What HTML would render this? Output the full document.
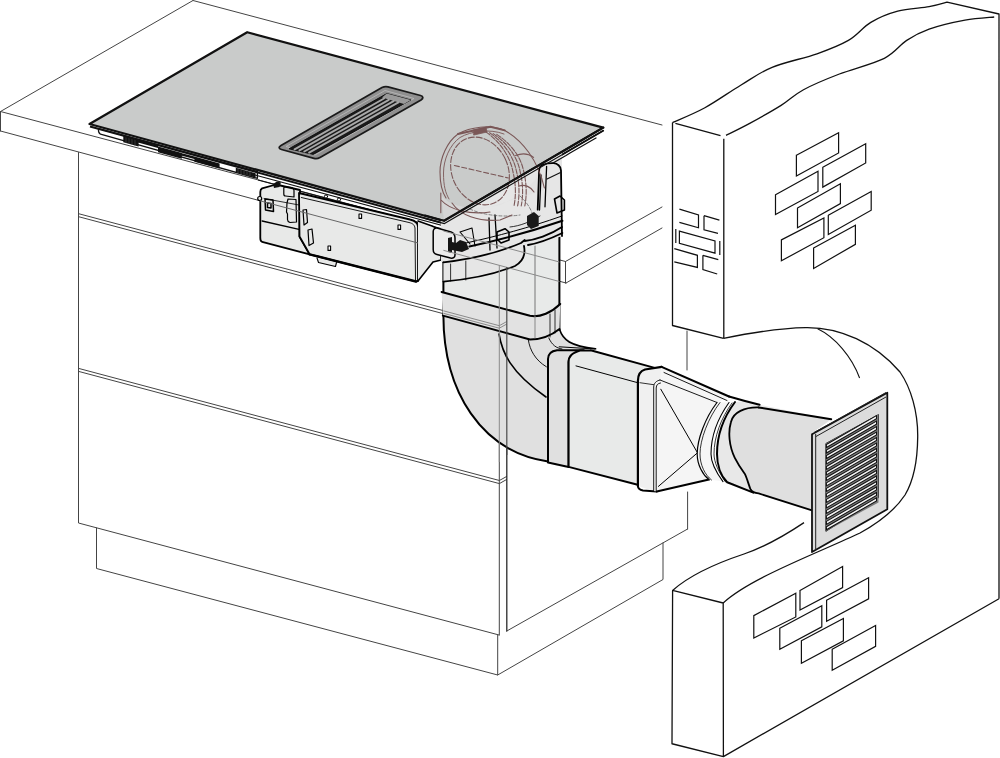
<!DOCTYPE html>
<html><head><meta charset="utf-8"><style>
html,body{margin:0;padding:0;background:#fff;width:1000px;height:758px;overflow:hidden}
svg{display:block}
</style></head><body>
<svg width="1000" height="758" viewBox="0 0 1000 758">
<rect width="1000" height="758" fill="#fff"/>
<!-- COUNTERTOP + CABINET -->
<g id="cab" fill="none" stroke="#444" stroke-width="1" stroke-linecap="round">
<path d="M0.5,111.5 L193,0.5 M193,0.5 L662,125 M0.5,111.5 L0.5,131 M0.5,111.5 L565.5,261.5 M0.5,131 L566,283 M565.5,261.5 L565.5,283 M565.5,261.5 L662,207 M566,283 L662,228"/>
<path d="M78.5,152.5 L78.5,523 L499,635 M499.3,265 L499.3,635 M687.6,529 L687.6,492 M687,331 L687,370"/>
<path d="M96.5,528 L96.5,568.5 L497.7,675 L497.7,635 M497.7,675 L663,579.5 L663,543"/>
<path d="M79,213.8 L499.4,325.5 L506.6,321.5 M79,216.8 L499.4,328.6 L506.6,324.5"/>
<path d="M79,368.5 L499.4,480.5 L506.6,476.5 M79,371.5 L499.4,483.6 L506.6,479.5"/>
<path d="M506.8,267 L506.8,631" stroke="#2a2a2a" stroke-width="1.3"/><path d="M506.8,631 L687.6,529"/>
</g>
<!-- WALLS -->
<g id="walls" fill="none" stroke="#111" stroke-width="1.3" stroke-linejoin="round">
<path d="M672.5,122.6 L672.5,325.5 L723.5,338.4 M675.4,123.3 L720.5,135.6 M723.8,138.7 L723.8,338.4"/>
<path d="M672.5,122.6 C677.9,120.1 693.5,113.9 704.9,107.7 C716.3,101.5 729.5,91.9 740.7,85.2 C751.9,78.5 759.4,72.5 772.1,67.3 C784.8,62.1 804.3,58.3 817.0,53.8 C829.7,49.3 839.4,45.6 848.4,40.4 C857.4,35.2 862.6,27.3 870.8,22.4 C879.0,17.5 888.0,13.8 897.7,11.2 C907.4,8.6 920.9,8.2 929.1,6.7 C937.3,5.2 944.0,3.0 947.0,2.2 L999,14 L999,598.75"/>
<path d="M726.0,135.4 C730.0,133.4 740.5,128.4 749.7,123.4 C758.9,118.4 772.1,111.0 781.1,105.4 C790.1,99.8 793.8,94.9 803.5,89.7 C813.2,84.5 825.9,79.2 839.4,74.0 C852.9,68.8 873.1,63.9 884.3,58.3 C895.5,52.7 899.2,45.2 906.7,40.4 C914.2,35.5 919.4,32.6 929.1,29.2 C938.8,25.8 954.1,22.2 965.0,20.2 C975.9,18.2 989.3,17.5 994.2,17.0"/>
<path d="M723.5,338.4 C745,334 780,328 805.6,327.6 C840,327 875,343 900,372 C911,388 918,412 917.7,437 C917.5,460 914,480 905,495 C895,510 880,522 860,533 C820,552 750,578 723.2,603"/>

<path d="M672.6,590.4 L723.2,603 L723.4,756.6 L672,743.75 Z M672.6,590.4 C690,575 720,562 744,554 C770,545 790,532 804,522.6 M723.4,756.6 L999,598.75"/>
</g>
<g id="bricks" fill="none" stroke="#111" stroke-width="1.2" stroke-linejoin="miter">
<path d="M796.4,155.2 L838.6,132.8 L838.6,153 L796.4,176.1 Z"/>
<path d="M822.8,167.3 L865.7,143.8 L865.7,162.9 L822.8,187.1 Z"/>
<path d="M775.5,194.8 L818,171.3 L818,191.5 L775.5,214.6 Z"/>
<path d="M797.5,208 L840.4,183.8 L840.4,203.6 L797.5,227.8 Z"/>
<path d="M828.3,215.3 L871.2,191.5 L871.2,210.2 L828.3,234.4 Z"/>
<path d="M781.4,239.9 L823.9,217.9 L823.9,237.7 L781.4,260.8 Z"/>
<path d="M813.6,248 L855.4,225.2 L855.4,244.3 L813.6,268.5 Z"/>
<path d="M753.8,615.6 L795.8,593.2 L795.8,617 L753.8,638 Z"/>
<path d="M800,590.4 L842.6,566.6 L842.6,587.6 L800,610 Z"/>
<path d="M826.6,600.2 L868.6,577.8 L868.6,598.8 L826.6,621.2 Z"/>
<path d="M779.8,628.2 L821.8,605.8 L821.8,626.8 L779.8,649.2 Z"/>
<path d="M801.4,640.8 L843.4,618.4 L843.4,640.8 L801.4,663.2 Z"/>
<path d="M832.2,649.2 L875.6,625.4 L875.6,646.4 L832.2,670.2 Z"/>
<path d="M679.4,209.1 L698.5,215 L698.5,227.8 L679.4,222.3 M704,215.7 L719.4,220.1 M704,215.7 L704,229.8 L718,233.3"/>
<path d="M679.4,231.1 L715,241 L715,253.1 L679.4,243.3 Z M675.8,229 L675.8,243 M719.8,241 L719.8,255"/>
<path d="M674.3,248.7 L697.4,255.3 L697.4,267.4 L674.3,261.9 M702.9,255.3 L718.3,259.7 M702.9,255.3 L702.9,269.6 L717.2,274"/>
</g>
<!-- HOB -->
<g id="hob">
<!-- underside strip -->
<path d="M98.5,128.6 C98.3,131 98.8,133.6 100.5,134.2 L257.4,178.4 L257.4,171.5 Z" fill="#fff" stroke="#111" stroke-width="1.3" stroke-linejoin="round"/>
<path d="M123.3,135.5 L138.6,139.8 L138.6,146.5 L123.3,142.2 Z M158,146.5 L181.8,153 L181.8,158.7 L158,152.3 Z M194.4,156.5 L219.6,163.4 L219.6,168.6 L194.4,161.8 Z M235.8,167.8 L255.6,173.2 L255.6,177.6 L235.8,172.2 Z M138,140 L158,145.5 L158,148 L138,142.5 Z M181,153 L194.4,156.6 L194.4,159 L181,155.4 Z" fill="#111"/>
<g stroke="#555" stroke-width="0.6"><path d="M126,136.5 L126,143 M129,137.3 L129,143.8 M132,138.2 L132,144.7 M135,139 L135,145.5 M238,168.5 L238,173 M241,169.3 L241,173.8 M244,170.1 L244,174.6 M247,171 L247,175.4 M250,171.8 L250,176.2"/></g>
<polygon points="89.5,124 247.2,32.2 603.2,127.6 444,221" fill="#c9cbca" stroke="#111" stroke-width="2.2" stroke-linejoin="round"/>
<path d="M90,126.5 L444,223.5 L603.5,130.5" fill="none" stroke="#111" stroke-width="2"/>
<path d="M255,175 L444,226 L446,229 M258,180 L430,226" fill="none" stroke="#111" stroke-width="1.2"/>
<!-- vent -->
<path d="M281,145.5 L382,87.5 C384,86.5 386,86.3 388,86.8 L420.5,95.5 C423.5,96.3 423.5,98.5 421,100 L320,157.5 C318,158.6 316,158.8 314,158.3 L281.5,149.5 C278.5,148.7 278.5,147 281,145.5 Z" fill="#8f8f8f" stroke="#1a1a1a" stroke-width="1.8"/>
<path d="M286,146.5 L385,90.5 L414,98.5 L315,155 Z" fill="none" stroke="#bdbdbd" stroke-width="0.8" stroke-linejoin="round"/>
<polygon points="289,148.8 386.8,93.6 410.8,100 313.2,154.4" fill="#1a1a1a" stroke="#111" stroke-width="1" stroke-linejoin="round"/>
<polygon points="386.8,93.6 410.8,100 404,104 382,97.5" fill="#9a9a9a"/>
<g stroke="#a8a8a8" stroke-width="2" stroke-linecap="round" fill="none"><path d="M294.6,149.3 L384.0,98.5"/><path d="M299.5,150.4 L388.8,99.8"/><path d="M304.3,151.5 L393.6,101.1"/><path d="M309.1,152.6 L398.4,102.3"/></g>

</g>
<!-- ============ MOTOR UNIT ============ -->
<g id="motor" stroke-linejoin="round" stroke-linecap="round">
<!-- left block -->
<path d="M262.1,188.4 L276,184.5 L300,190 L299.5,236.5 L309.6,254.3 L262.1,241.8 C261,241.5 260.3,240 260.3,238 L260.3,192 C260.3,190 261,189 262.1,188.4 Z" fill="#e8e9e8" stroke="#000" stroke-width="1.8"/>
<path d="M262.1,221 L299,229.4" fill="none" stroke="#000" stroke-width="1.3"/>
<path d="M264,198.5 L299,205" fill="none" stroke="#000" stroke-width="0.8"/>
<path d="M265,199 L273,200 L273.5,211.5 L265.5,210 Z M267.5,203 L271,203.5 L271,208 L267.5,207.5 Z" fill="none" stroke="#000" stroke-width="1.5"/>
<circle cx="259.7" cy="198.5" r="2" fill="#e8e9e8" stroke="#000" stroke-width="1.2"/>
<path d="M273,184 L277,181.5 L281,182.5 L279.5,187 L274,188 Z" fill="#111"/>
<path d="M284.5,186.6 L292,187.6 C293.5,188 294,189 294,190.5 L294,197 L285.5,196 C284.5,196 283.8,195 283.8,194 L283.8,188 Z" fill="none" stroke="#000" stroke-width="1.2"/>
<path d="M288,199 L296,199.5 L296.5,222 L290,222.5 C288.5,222 287.5,221 287.5,219.5 L287.5,214 L286.5,212 L287,203 Z" fill="none" stroke="#000" stroke-width="1.2"/>
<!-- main body -->
<path d="M299,193 L410,219.5 C415,220.5 418,223 418,227 L418,281 L415.8,281.5 L309.6,254.3 L299.5,236.5 Z" fill="#e8e9e8" stroke="#000" stroke-width="1.8"/>
<path d="M301.3,197.5 L409,222.5 C413,223.5 414.5,225 415,228 L415.5,280" fill="none" stroke="#000" stroke-width="0.9"/>
<path d="M317,258 L318.5,262.5 L335.5,266.5 L336.5,262.5" fill="#e8e9e8" stroke="#000" stroke-width="1.1"/>
<path d="M309.6,254.3 L416,281.5" fill="none" stroke="#000" stroke-width="2.4"/>
<rect x="359" y="214" width="2.6" height="4.4" fill="#fff" stroke="#000" stroke-width="1.1"/>
<rect x="398" y="225" width="2.6" height="4.4" fill="#fff" stroke="#000" stroke-width="1.1"/>
<rect x="328" y="246" width="2.6" height="4.4" fill="#fff" stroke="#000" stroke-width="1.1"/>
<path d="M303,210 L306.5,209.5 L307.5,222.5 L304,225 Z" fill="none" stroke="#000" stroke-width="1.2"/>
<path d="M308,230 L312,229 L313.5,243 L309,245.5 Z" fill="none" stroke="#000" stroke-width="1.2"/>
<circle cx="326" cy="196.5" r="1.6" fill="#fff" stroke="#000" stroke-width="1"/>
<circle cx="339" cy="199.5" r="1.6" fill="#fff" stroke="#000" stroke-width="1"/>
<!-- right connector -->
<path d="M418,221 L432,226 L441,230 L441,260 L433,262 L418,281" fill="#e8e9e8" stroke="#000" stroke-width="1.6"/>
</g>
<!-- ============ DUCTS ============ -->
<g id="ducts" stroke-linejoin="round" stroke-linecap="round">
<!-- elbow body -->
<path d="M443.4,300 L443.4,314 C443,392 482,452 548,461.5 L560,462 L560,350 L596,349 C580,347 566,342 560,330 L560,300 Z" fill="#e0e0e0"/>
<path d="M443.4,314 C443,392 482,452 548,461.5" fill="none" stroke="#000" stroke-width="2"/>
<path d="M559.6,329.6 C563,340 570,346 595.6,348.8" fill="none" stroke="#000" stroke-width="1.6"/>
<path d="M548.8,338 C552,345 556,348 562,349" fill="none" stroke="#000" stroke-width="0.9"/>
<path d="M499,334 C502,352 510,372 546,397" fill="none" stroke="#000" stroke-width="1.6"/>
<path d="M528.4,340.4 C530,350 535,360 546.4,366.8" fill="none" stroke="#000" stroke-width="0.9"/>
<!-- vertical duct -->
<path d="M443.4,262 L443.4,314 L532,339 C540,340 552,336 559.4,329.6 L559.4,228 L443.4,262 Z" fill="#e8eae9"/>
<path d="M443.4,262 L443.4,314 M559.4,228 L559.4,330" fill="none" stroke="#000" stroke-width="2"/>
<path d="M535,246 L535,338" fill="none" stroke="#777" stroke-width="1"/>
<!-- band on vertical duct -->
<path d="M441.6,292 L530,315.8 C540,318 552,312 560.2,304 L559.5,329 C552,335 542,339.5 530,339.5 L442.9,315.6 Z" fill="#e2e2e2"/>
<path d="M441.6,292 L530,315.8 C540,318 552,312 560.2,304 M442.9,315.6 L530,339.5 C542,339.5 552,335 559.5,329" fill="none" stroke="#000" stroke-width="2"/>
<path d="M550,314 L550,337 M555,310 L555,333" fill="none" stroke="#000" stroke-width="0.8"/>
<path d="M535,316 L535,338" fill="none" stroke="#888" stroke-width="1"/>
<!-- band 1 horizontal -->
<path d="M548,462.4 L548,359 C548,354 551,351 557,350.2 L583.8,350.2 L575,353.6 C570,356 568.6,358 568.6,362 L568.6,466.9 Z" fill="#e0e0e0" stroke="#000" stroke-width="2"/>
<path d="M559.2,346.8 L595,349" fill="none" stroke="#000" stroke-width="1"/>
<!-- horizontal main -->
<path d="M568.6,466.9 L568.6,362 C568.6,356 572,353 580,350.5 L590.6,350.2 L655.6,368.1 L637.7,484.8 Z" fill="#e8eae9"/>
<path d="M590.6,350.2 L655.6,368.1 M568.6,466.9 L637.7,484.8 M568.6,466.9 L568.6,362 C568.6,356 572,353 580,350.5 L590.6,350.2" fill="none" stroke="#000" stroke-width="2"/>
<path d="M576,365.9 L637.7,382.7" fill="none" stroke="#000" stroke-width="1"/>
<!-- coupler 2 -->
<path d="M637.9,486 L637.9,381 C637.9,375 640,371 645,369.5 L661.6,366.9 L670,371 L660,380 C656,381 654,383 653.7,387 L653.7,491 Z" fill="#f0f0f0"/>
<path d="M637.9,486 L637.9,381 C637.9,375 640,371 645,369.5 L661.6,366.9" fill="none" stroke="#000" stroke-width="2.2"/>
<path d="M639.9,382.7 L653.7,384.7" fill="none" stroke="#000" stroke-width="0.8"/>
<path d="M637.9,486 C638,489 640,490 643,490.5 L656.7,491.5" fill="none" stroke="#000" stroke-width="2"/>
<!-- transition -->
<path d="M653.7,491 L653.7,387 C654,383 656,381 660,380 L661.6,366.9 L729,396.5 L717,402.5 C705,418 697.2,440 697.2,453.9 C697.2,465 703,475 709,479.6 L656.7,491.5 Z" fill="#f5f5f5"/>
<path d="M661.6,366.9 L729,396.5" fill="none" stroke="#000" stroke-width="2"/>
<path d="M664,372.5 L727,400.5 M660,380 L717,402.5" fill="none" stroke="#000" stroke-width="0.9"/>
<path d="M653.7,491 L653.7,387 C654,383 656,381 660,380 M656.2,491 L656.2,388 C656.4,385 657.5,383.5 660.5,383" fill="none" stroke="#000" stroke-width="0.9"/>
<path d="M656.7,491.5 L709,479.6" fill="none" stroke="#000" stroke-width="2"/>
<path d="M660.8,389.2 L697.5,452.8 L658.4,486.4" fill="none" stroke="#000" stroke-width="1"/>
<!-- neck ring 1 -->
<path d="M717,402.5 C705,418 697.2,440 697.2,453.9 C697.2,465 703,475 709,479.6 L723,481.6 C716,472 711,462 711,453.9 C711,437 718,418 729,402.5 Z" fill="#f6f6f6"/>
<path d="M717,402.5 C705,418 697.2,440 697.2,453.9 C697.2,465 703,475 709,479.6" fill="none" stroke="#000" stroke-width="1.2"/>
<path d="M720,402.5 C708,418 700,440 700,453.9 C700,465 705,475 711.5,480" fill="none" stroke="#000" stroke-width="0.8"/>
<path d="M729,402.5 C718,418 711,437 711,453.9 C711,462 716,472 723,481.6" fill="none" stroke="#000" stroke-width="1.1"/>
<path d="M732,403 C721,418 714,437 714,453.9 C714,462 718.5,472 725.5,482" fill="none" stroke="#000" stroke-width="0.8"/>
<!-- ring 2 + round duct -->
<path d="M735,402 C723,418 717,437 717,453.9 C717,465 721,476 727.2,482.3 L753.3,492.6 L812,510.4 L812,433 L831.2,419.2 L759.6,404.8 L745,401 Z" fill="#e8e8e8"/>
<path d="M735,402 C723,418 717,437 717,453.9 C717,465 721,476 727.2,482.3 L753.3,492.6" fill="none" stroke="#000" stroke-width="2"/>
<path d="M729,396.5 L745,401 L759.6,404.8" fill="none" stroke="#000" stroke-width="2"/>
<path d="M758.6,407.4 C745,407 733,412 730.9,422.2 C728,432 729,446 734.8,457.8 C739,466 742,470 744.7,473.7 C747,478 749,486 750.6,489.5 C752,492 755,493 758.6,493.4 L812,510.4 L812,433 L831.2,419.2 Z" fill="#dfdfdf"/>
<path d="M758.6,407.4 C745,407 733,412 730.9,422.2 C728,432 729,446 734.8,457.8 C739,466 742,470 744.7,473.7 C747,478 749,486 750.6,489.5 C752,492 755,493 758.6,493.4 L812,510.4" fill="none" stroke="#000" stroke-width="1.8"/>
<path d="M758.6,407.4 L831.2,419.2" fill="none" stroke="#000" stroke-width="2"/>
</g>
<!-- ============ BLOWER + ADAPTER ============ -->
<g id="blower" stroke-linejoin="round" stroke-linecap="round">
<!-- housing body below hob edge -->
<path d="M441,193 L441,262 L524.7,241 L537.7,209 L539,168 C540,165 545,163 553.7,163.2 C557,163.5 561,166 561,170.5 L562,236 L533,246 L441,262 Z" fill="#e8e8e8"/>
<path d="M441,218 L444,222 L562,153 L562,236 L526,246 L441,262 Z" fill="#e6e6e6"/>
<!-- light translucent lower body above hob -->
<path d="M441,193 C444,205 470,212 500,205 L520,195 L535,180 L541,168 L545,190 L444,221 Z" fill="#dedede" opacity="0.55"/>
<!-- adapter oval -->
<path d="M443.4,262.4 C470,259.2 505,251.2 524.2,243.2 C526,255 522,262 515,266 C495,276 470,281 443.4,281.6 Z" fill="#e6e6e6"/>
<path d="M443.4,262.4 C470,259.2 500,252 521,243 L524.7,240 M443.4,281.6 C475,279 500,272 515,266 C522,262 526,256 524,246" fill="none" stroke="#000" stroke-width="1.8"/>
<path d="M450.6,264 L450.6,281 M465.8,261 L465.8,280" fill="none" stroke="#000" stroke-width="0.8"/>
<!-- inner housing lines -->
<g fill="none" stroke="#000">
<path d="M469.4,246.5 C500,240 530,232 562.4,220.8" stroke-width="2"/>
<path d="M466,243 C498,236 528,228 562,216" stroke-width="1"/>
<path d="M460,232 L470,244 M460,232 L472,228 L475,246" stroke-width="1.1"/>
<path d="M489,218 L490,250 M495,215 L497,248" stroke-width="1.3"/>
<path d="M510,227 C520,226 530,222 540,216" stroke-width="0.8"/>
<path d="M520,196 C530,205 534,215 535,225 M470,209 C480,214 500,218 520,215" stroke-width="0.7" stroke="#555" stroke-dasharray="3 2"/>
</g>
<!-- right black frame -->
<path d="M537.7,209.7 L539.2,169 C540,165 545,163 553.7,163.2 C557,163.5 561,166 561,170.5 L562,236" fill="none" stroke="#000" stroke-width="1.8"/>
<path d="M546.6,166.5 L545,206.8 M541,175 L539.5,210" fill="none" stroke="#000" stroke-width="1.3"/>
<path d="M524.7,241 C535,240 550,235 562,227 M528,245 C540,243 552,238 562.4,233" fill="none" stroke="#000" stroke-width="1.8"/>
<path d="M554.5,199 L560,196 L564.4,200 L564.4,210 L557,213 Z" fill="none" stroke="#000" stroke-width="1.6"/>
<path d="M527,216 L534,212 L538.7,216 L538.7,226 L531,229 L527,225 Z" fill="#1a1a1a"/>
<path d="M497,232 L505,228.7 L509,232 L509,240 L501,243 L497,239 Z" fill="none" stroke="#000" stroke-width="1.6"/>
<!-- reddish ghost cylinder -->
<g fill="none" stroke="#7a5757" stroke-width="1.1">
<path d="M504.8,130.4 C490,124 470,127 458,134 C447,142 440,158 440,172 C440,185 442,192 446,198"/>
<path d="M504,134 C490,128.5 471,131 460,137.5 C449.5,145 443.5,160 443.5,173 C443.5,186 445.5,193 449,199" stroke-width="0.9"/>
<path d="M458,134 L490.4,126.8 L504.8,130.4" stroke-width="2"/>
<path d="M473,130 L486,127.5 L487,132 L474,135 Z" fill="#7a5757" stroke-width="0.8"/>
<ellipse cx="480" cy="171" rx="28" ry="35" transform="rotate(-25 480 171)" stroke-dasharray="6 2"/>
<path d="M454.4,165.5 L508.4,178" stroke-dasharray="5 2.5"/>
<path d="M486.0,132.0 C498.0,140.0 510.0,155 513.0,172 C516.0,184 516.0,196 514.0,206" stroke-dasharray="5 1.5"/>
<path d="M489.6,132.8 C501.6,140.8 513.6,155 516.6,172 C519.6,184 519.6,196 517.6,206" stroke-dasharray="5 1.5"/>
<path d="M493.2,133.6 C505.2,141.6 517.2,155 520.2,172 C523.2,184 523.2,196 521.2,206" stroke-dasharray="5 1.5"/>
<path d="M496.8,134.4 C508.8,142.4 520.8,155 523.8,172 C526.8,184 526.8,196 524.8,206" stroke-dasharray="5 1.5"/>
<path d="M504.8,130.4 C522,140 538,160 544.4,188"/>
<path d="M515.6,155.6 C522,153 529,154 533.6,157.4 M519,186 C525,184 531,187 534,192"/>
<path d="M440.8,193 L440.8,212.8 M441,200 C450,210 470,215 490,212" />
<path d="M452,203 C460,215 478,222 500,220 L512,215"/>
</g>
<!-- connector on motor side -->
<path d="M437,228 L451,232 C453.5,233 455,235 455,238 L455,255 C455,257.5 453,258.5 450.5,258 L437,254.5 C434.5,254 433.2,252 433.2,249.5 L433.2,231.5 C433.2,229 435,227.8 437,228 Z" fill="#ececec" stroke="#000" stroke-width="1.5"/>
<path d="M448,238 L452,237 L452,242 L456,243 L460,240 L466,242 L469,249 L462,252 L452,250 L452,253 L448,252 Z" fill="#151515"/>
<!-- hob front-right edge redraw over housing -->
<path d="M425,215.5 L444,220.8 L603.2,127.6" fill="none" stroke="#111" stroke-width="2.2" stroke-linejoin="round"/>
<path d="M425,218.3 L444.5,223.6 L603.5,130.5" fill="none" stroke="#111" stroke-width="1.2"/>
<path d="M596,138 L570,153 L566,155.5 L553,163" fill="none" stroke="#111" stroke-width="1.3"/>
<path d="M547,179 L560.5,172.5" fill="none" stroke="#111" stroke-width="1.2"/>
</g>
<!-- GRILLE -->
<g id="grille">
<polygon points="812,434.3 887.3,392.7 887.3,509.3 812,552" fill="#dcdcdc" stroke="#111" stroke-width="1.8" stroke-linejoin="round"/>
<path d="M815.7,434 L815.7,550 M814,432.5 L886,392.5 M816,436.5 L886,397" fill="none" stroke="#222" stroke-width="1"/>
<polygon points="825.9,443.5 878.5,414.6 878.5,497.8 825.9,531.3" fill="#f2f2f2" stroke="#111" stroke-width="1"/>
<g id="louvers">
<polygon points="825.9,443.5 878.5,414.6 878.5,502.40000000000003 825.9,531.3" fill="#7a7a7a"/>
<path d="M826.4,444.50 L876.5,415.60 L876.5,418.60 L826.4,447.50 Z" fill="#f4f4f4" stroke="#111" stroke-width="1.05"/>
<path d="M826.4,449.99 L876.5,421.09 L876.5,424.09 L826.4,452.99 Z" fill="#f4f4f4" stroke="#111" stroke-width="1.05"/>
<path d="M826.4,455.48 L876.5,426.58 L876.5,429.58 L826.4,458.48 Z" fill="#f4f4f4" stroke="#111" stroke-width="1.05"/>
<path d="M826.4,460.96 L876.5,432.06 L876.5,435.06 L826.4,463.96 Z" fill="#f4f4f4" stroke="#111" stroke-width="1.05"/>
<path d="M826.4,466.45 L876.5,437.55 L876.5,440.55 L826.4,469.45 Z" fill="#f4f4f4" stroke="#111" stroke-width="1.05"/>
<path d="M826.4,471.94 L876.5,443.04 L876.5,446.04 L826.4,474.94 Z" fill="#f4f4f4" stroke="#111" stroke-width="1.05"/>
<path d="M826.4,477.43 L876.5,448.53 L876.5,451.53 L826.4,480.43 Z" fill="#f4f4f4" stroke="#111" stroke-width="1.05"/>
<path d="M826.4,482.91 L876.5,454.01 L876.5,457.01 L826.4,485.91 Z" fill="#f4f4f4" stroke="#111" stroke-width="1.05"/>
<path d="M826.4,488.40 L876.5,459.50 L876.5,462.50 L826.4,491.40 Z" fill="#f4f4f4" stroke="#111" stroke-width="1.05"/>
<path d="M826.4,493.89 L876.5,464.99 L876.5,467.99 L826.4,496.89 Z" fill="#f4f4f4" stroke="#111" stroke-width="1.05"/>
<path d="M826.4,499.38 L876.5,470.48 L876.5,473.48 L826.4,502.38 Z" fill="#f4f4f4" stroke="#111" stroke-width="1.05"/>
<path d="M826.4,504.86 L876.5,475.96 L876.5,478.96 L826.4,507.86 Z" fill="#f4f4f4" stroke="#111" stroke-width="1.05"/>
<path d="M826.4,510.35 L876.5,481.45 L876.5,484.45 L826.4,513.35 Z" fill="#f4f4f4" stroke="#111" stroke-width="1.05"/>
<path d="M826.4,515.84 L876.5,486.94 L876.5,489.94 L826.4,518.84 Z" fill="#f4f4f4" stroke="#111" stroke-width="1.05"/>
<path d="M826.4,521.33 L876.5,492.43 L876.5,495.43 L826.4,524.33 Z" fill="#f4f4f4" stroke="#111" stroke-width="1.05"/>
<path d="M826.4,526.81 L876.5,497.91 L876.5,500.91 L826.4,529.81 Z" fill="#f4f4f4" stroke="#111" stroke-width="1.05"/>
</g>
</g>
<!-- OVERLAY lines through ducts -->
<g fill="none" stroke="#8a8a8a" stroke-width="1">
<path d="M499.3,265 L499.3,462"/>
<path d="M443.4,231 L559.4,262 M443.4,250.3 L559.4,281.5"/>
<path d="M443.4,310.8 L499.3,325.7 L506.8,321.5 M443.4,313.3 L499.3,328.2 L506.8,324"/>
<path d="M506.8,267 L506.8,455" stroke="#4a4a4a" stroke-width="1.2"/>
<path d="M260,200.8 L418,243" stroke="#666"/>
</g>
<g fill="none" stroke="#111" stroke-width="1.1">
<path d="M817.6,328.8 C835,337 852,357 859.6,378"/>
</g>
</svg>
</body></html>
